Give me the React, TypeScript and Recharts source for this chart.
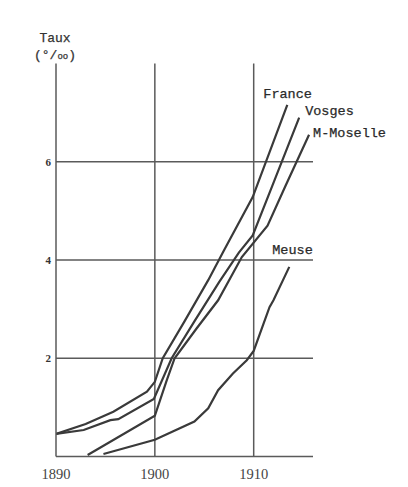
import React from 'react';
import { LineChart, Line, XAxis, YAxis, ReferenceLine } from 'recharts';

const xTicks = [1890, 1900, 1910];
const yTicks = [0, 2, 4, 6];
const xGrid = [1900, 1910];
const yGrid = [2, 4, 6];

const franceYears = [1890, 1893, 1895.8, 1899.2, 1900, 1900.8, 1903, 1905.4, 1907, 1909.9, 1913.4];
const franceValues = [0.46, 0.66, 0.91, 1.32, 1.52, 2.0, 2.75, 3.59, 4.2, 5.28, 7.16];

const vosgesYears = [1890, 1892.8, 1895.5, 1896.3, 1899.9, 1901.7, 1904, 1906.5, 1908.5, 1909.9, 1912.1, 1914.6];
const vosgesValues = [0.46, 0.54, 0.74, 0.76, 1.17, 2.0, 2.75, 3.55, 4.15, 4.5, 5.62, 6.9];

const moselleYears = [1893.2, 1900, 1901.2, 1902.0, 1904.2, 1906.4, 1908.8, 1911.4, 1913.2, 1915.6];
const moselleValues = [0.03, 0.83, 1.55, 2.0, 2.6, 3.18, 4.06, 4.7, 5.5, 6.55];

const meuseYears = [1894.8, 1900, 1904, 1905.4, 1906.4, 1907.9, 1909.3, 1910, 1911.6, 1912, 1913.6];
const meuseValues = [0.05, 0.34, 0.71, 0.98, 1.35, 1.69, 1.96, 2.15, 3.04, 3.18, 3.86];

const seriesNames = ['France', 'Vosges', 'M-Moselle', 'Meuse'];
const axisTitle = 'Taux';

const toData = (xs: number[], ys: number[]) => xs.map((x, i) => ({ x, y: ys[i] }));

const LINE = '#3a3a3a';
const GRID = '#5a5a5a';
const MONO = '"Liberation Mono", "DejaVu Sans Mono", monospace';

const makeLabel = (name: string, len: number, dx: number, dy: number) => (props: any) => {
  if (props.index !== len - 1) return null;
  return (
    <text
      x={props.x + dx}
      y={props.y + dy}
      fontFamily={MONO}
      fontSize={13.5}
      fill="#2a2a2a"
      stroke="#2a2a2a"
      strokeWidth={0.25}
    >
      {name}
    </text>
  );
};

export default function App() {
  const series = [
    { name: seriesNames[0], data: toData(franceYears, franceValues), dx: -24, dy: -7 },
    { name: seriesNames[1], data: toData(vosgesYears, vosgesValues), dx: 6, dy: -3 },
    { name: seriesNames[2], data: toData(moselleYears, moselleValues), dx: 4, dy: 2 },
    { name: seriesNames[3], data: toData(meuseYears, meuseValues), dx: -17, dy: -13 },
  ];
  return (
    <div style={{ position: 'absolute', left: 0, top: 0, width: 408, height: 487, background: '#fff' }}>
      <div
        style={{
          position: 'absolute',
          left: 0,
          width: 110,
          top: 30,
          textAlign: 'center',
          fontFamily: MONO,
          fontSize: 13,
          color: '#333',
          lineHeight: '17px',
          WebkitTextStroke: '0.25px #333',
        }}
      >
        <div>{axisTitle}</div>
        <div>
          (°/<span style={{ fontSize: 9 }}>oo</span>)
        </div>
      </div>
      <LineChart
        width={408}
        height={487}
        margin={{ top: 63.5, right: 95, left: 0, bottom: 0 }}
      >
        <XAxis
          type="number"
          dataKey="x"
          domain={[1890, 1916]}
          ticks={xTicks}
          axisLine={{ stroke: GRID, strokeWidth: 1.5 }}
          tickLine={false}
          tickSize={0}
          tickMargin={12}
          height={30.5}
          allowDataOverflow
          tick={{ fill: '#444', fontSize: 14.5, fontFamily: '"Liberation Serif", serif' }}
        />
        <YAxis
          type="number"
          dataKey="y"
          domain={[0, 8]}
          ticks={yTicks}
          axisLine={{ stroke: GRID, strokeWidth: 1.5 }}
          tickLine={false}
          tickSize={0}
          tickMargin={5}
          width={56}
          allowDataOverflow
          tickFormatter={(v: number) => (v === 0 ? '' : String(v))}
          tick={{ fill: '#333', fontSize: 11, fontWeight: 'bold', fontFamily: '"Liberation Serif", serif' }}
        />
        {xGrid.map((v) => (
          <ReferenceLine key={'x' + v} x={v} stroke={GRID} strokeWidth={1.5} />
        ))}
        {yGrid.map((v) => (
          <ReferenceLine key={'y' + v} y={v} stroke={GRID} strokeWidth={1.5} />
        ))}
        {series.map((s) => (
          <Line
            key={s.name}
            data={s.data}
            dataKey="y"
            type="linear"
            stroke={LINE}
            strokeWidth={2.2}
            dot={false}
            activeDot={false}
            isAnimationActive={false}
            label={makeLabel(s.name, s.data.length, s.dx, s.dy)}
          />
        ))}
      </LineChart>
    </div>
  );
}
